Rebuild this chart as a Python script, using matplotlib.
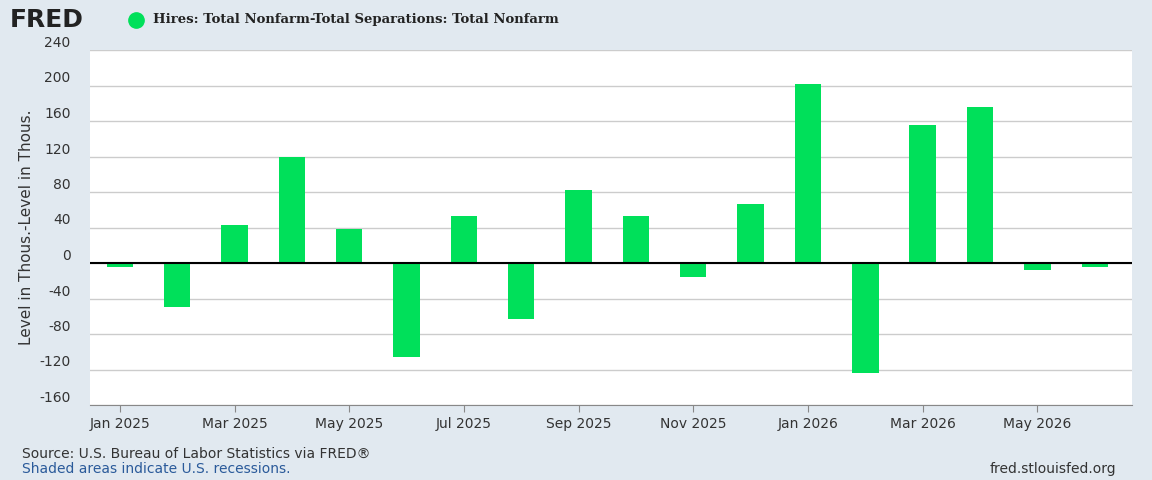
import matplotlib
matplotlib.use("Agg")
import matplotlib.pyplot as plt
from matplotlib.lines import Line2D

months = ["Jan 2025","Feb 2025","Mar 2025","Apr 2025","May 2025","Jun 2025","Jul 2025","Aug 2025",
          "Sep 2025","Oct 2025","Nov 2025","Dec 2025","Jan 2026","Feb 2026","Mar 2026","Apr 2026",
          "May 2026","Jun 2026"]
values = [-4, -50, 43, 119, 38, -106, 53, -63, 82, 53, -16, 67, 202, -124, 156, 176, -8, -4]
yticks = [-160, -120, -80, -40, 0, 40, 80, 120, 160, 200, 240]

bg = "#e1e9f0"
fig = plt.figure(figsize=(11.52, 4.8), dpi=100, facecolor=bg)
ax = fig.add_axes([90/1152, 1-405/480, (1132-90)/1152, (405-50)/480])
ax.set_facecolor("white")
x = list(range(len(values)))
ax.bar(x, values, width=0.46, color="#00e05a", zorder=3)
ax.axhline(0, color="black", lw=1.5, zorder=4)
ax.set_ylim(-160, 240)
ax.set_xlim(-0.52, len(values) - 0.35)
ax.set_yticks(yticks)
ax.set_yticklabels([str(v) for v in yticks], fontsize=10, color="#333333")
ax.set_xticks(x[::2])
ax.set_xticklabels(months[::2], fontsize=10, color="#333333")
ax.tick_params(axis="y", length=0, pad=14)
ax.tick_params(axis="x", length=5, color="#888888")
ax.grid(axis="y", color="#cccccc", lw=1, zorder=0)
for s in ["top", "right", "left"]:
    ax.spines[s].set_visible(False)
ax.spines["bottom"].set_color("#888888")
for lbl in ax.get_yticklabels():
    lbl.set_va("bottom")
ax.set_ylabel("Level in Thous.-Level in Thous.", fontsize=11, color="#333333", labelpad=4)

fig.text(10/1152, 1-20/480, "FRED", fontsize=18, fontweight="bold", color="#222222", va="center")
fig.add_artist(Line2D([136/1152], [1-20/480], marker="o", markersize=11, color="#00e05a",
                      linestyle="none", transform=fig.transFigure))
fig.text(153/1152, 1-20/480, "Hires: Total Nonfarm-Total Separations: Total Nonfarm", fontsize=9.5,
         fontweight="bold", family="DejaVu Serif", color="#222222", va="center")
fig.text(22/1152, 1-454/480, "Source: U.S. Bureau of Labor Statistics via FRED®", fontsize=10, color="#333333", va="center")
fig.text(22/1152, 1-469/480, "Shaded areas indicate U.S. recessions.", fontsize=10, color="#2a5a9a", va="center")
fig.text(1116/1152, 1-469/480, "fred.stlouisfed.org", fontsize=10, color="#333333", va="center", ha="right")
fig.savefig("out.png", dpi=100, facecolor=bg)
